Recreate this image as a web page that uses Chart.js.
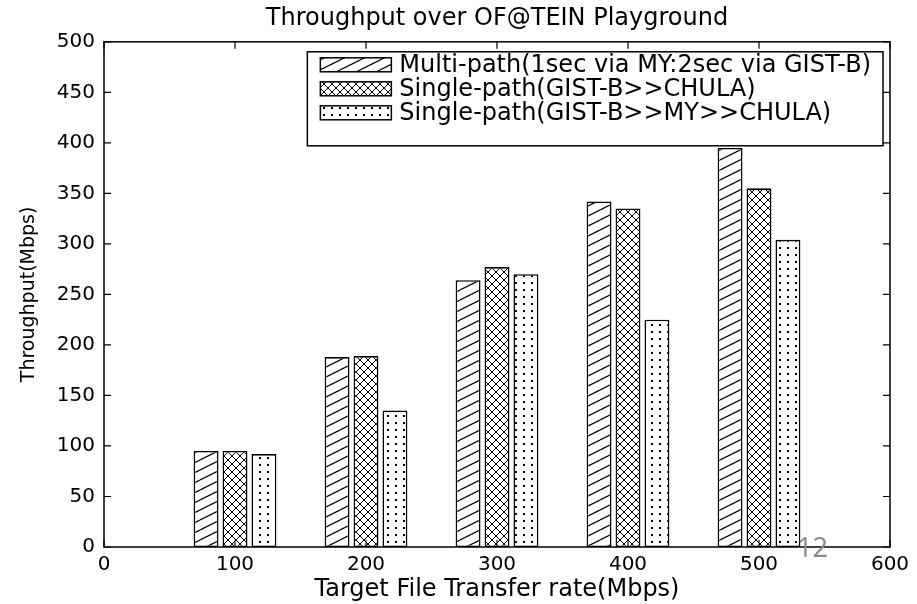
<!DOCTYPE html>
<html>
<head>
<meta charset="utf-8">
<script src="https://cdn.jsdelivr.net/npm/chart.js@4.4.1/dist/chart.umd.min.js"></script>
<style>
  html, body { margin: 0; padding: 0; background: #fff; }
  #wrap { width: 917px; height: 604px; }
</style>
</head>
<body>
<div id="wrap"><canvas id="throughputChart" width="917" height="604"></canvas></div>
<script>
// datos
const targetRates = [100, 200, 300, 400, 500];
const multiPath = [95, 188, 264, 342, 395];
const singleChula = [95, 189, 277, 335, 355];
const singleViaMy = [92, 135, 270, 225, 304];
const seriesLabels = [
    'Multi-path(1sec via MY:2sec via GIST-B)',
    'Single-path(GIST-B>>CHULA)',
    'Single-path(GIST-B>>MY>>CHULA)'
];
const xTickStep = 100;
const yTickStep = 50;

const FONT = '"DejaVu Sans", "Liberation Sans", sans-serif';

// patrones de relleno estilo MATLAB
function makePattern(kind) {
    const tile = document.createElement('canvas');
    let w = 8, h = 8;
    if (kind === 'diag') { w = 20; h = 10; }
    if (kind === 'dots') { w = 8; h = 7; }
    tile.width = w; tile.height = h;
    const c = tile.getContext('2d');
    c.fillStyle = '#fff';
    c.fillRect(0, 0, w, h);
    c.strokeStyle = '#000';
    c.fillStyle = '#000';
    c.lineWidth = 1.2;
    if (kind === 'diag') {
        c.beginPath();
        for (const dy of [-h, 0, h]) {
            c.moveTo(0, h + dy);
            c.lineTo(w, dy);
        }
        c.stroke();
    } else if (kind === 'cross') {
        c.lineWidth = 1;
        c.beginPath();
        c.moveTo(0, 0); c.lineTo(w, h);
        c.moveTo(0, h); c.lineTo(w, 0);
        c.stroke();
    } else {
        c.fillRect(3, 2, 2, 2);
    }
    return c.createPattern(tile, 'repeat');
}

const patterns = [makePattern('diag'), makePattern('cross'), makePattern('dots')];

function toPoints(values) {
    return targetRates.map((x, i) => ({ x: x, y: values[i] }));
}

// marco y marcas hacia dentro en los cuatro lados
const framePlugin = {
    id: 'frameTicks',
    afterDatasetsDraw(chart) {
        const { ctx, chartArea: a, scales } = chart;
        ctx.save();
        ctx.strokeStyle = '#000';
        ctx.lineWidth = 1.5;
        ctx.strokeRect(a.left, a.top, a.right - a.left, a.bottom - a.top);
        ctx.lineWidth = 1.2;
        ctx.beginPath();
        scales.x.ticks.forEach(t => {
            const px = scales.x.getPixelForValue(t.value);
            ctx.moveTo(px, a.bottom); ctx.lineTo(px, a.bottom - 7);
            ctx.moveTo(px, a.top); ctx.lineTo(px, a.top + 7);
        });
        scales.y.ticks.forEach(t => {
            const py = scales.y.getPixelForValue(t.value);
            ctx.moveTo(a.left, py); ctx.lineTo(a.left + 7, py);
            ctx.moveTo(a.right, py); ctx.lineTo(a.right - 7, py);
        });
        ctx.stroke();
        ctx.restore();
    }
};

// leyenda dentro del area, arriba a la derecha
const boxLegendPlugin = {
    id: 'boxLegend',
    afterDraw(chart) {
        const { ctx, chartArea: a } = chart;
        ctx.save();
        ctx.font = '24px ' + FONT;
        const textW = Math.max(...chart.data.datasets.map(d => ctx.measureText(d.label).width));
        const patchW = 71, patchH = 14, rowH = 24;
        const boxW = 13 + patchW + 8 + textW + 12;
        const boxH = 94;
        const right = a.right - 7;
        const left = right - boxW;
        const top = a.top + 10;
        ctx.fillStyle = '#fff';
        ctx.fillRect(left, top, boxW, boxH);
        ctx.strokeStyle = '#000';
        ctx.lineWidth = 1.5;
        ctx.strokeRect(left, top, boxW, boxH);
        chart.data.datasets.forEach((d, i) => {
            const cy = top + 13 + i * rowH;
            ctx.fillStyle = d.backgroundColor;
            ctx.fillRect(left + 13, cy - patchH / 2, patchW, patchH);
            ctx.lineWidth = 1.5;
            ctx.strokeRect(left + 13, cy - patchH / 2, patchW, patchH);
            ctx.fillStyle = '#000';
            ctx.textBaseline = 'middle';
            ctx.fillText(d.label, left + 13 + patchW + 8, cy + 1);
        });
        // numero de diapositiva
        ctx.font = '27px "Noto Sans", sans-serif';
        ctx.fillStyle = '#8c8c8c';
        ctx.textBaseline = 'alphabetic';
        ctx.fillText('12', 797, 557);
        ctx.restore();
    }
};

const ctx = document.getElementById('throughputChart').getContext('2d');
const throughputChart = new Chart(ctx, {
    type: 'bar',
    data: {
        datasets: [multiPath, singleChula, singleViaMy].map((vals, i) => ({
            label: seriesLabels[i],
            data: toPoints(vals),
            backgroundColor: patterns[i],
            borderColor: '#000',
            borderWidth: 1.6,
            borderSkipped: false,
            categoryPercentage: 0.663,
            barPercentage: 0.86
        }))
    },
    options: {
        responsive: false,
        animation: false,
        layout: { padding: { left: 0, right: 27, top: 0, bottom: 0 } },
        plugins: {
            legend: { display: false },
            tooltip: { enabled: false },
            title: {
                display: true,
                text: 'Throughput over OF@TEIN Playground',
                color: '#000',
                fullSize: false,
                font: { family: FONT, size: 24, weight: 'normal' },
                padding: { top: 4, bottom: 9 }
            }
        },
        scales: {
            x: {
                type: 'linear',
                min: 0, max: 600,
                offset: false,
                grid: { display: false, drawTicks: false },
                border: { display: false },
                ticks: { stepSize: xTickStep, color: '#000', padding: 6, maxRotation: 0,
                         font: { family: FONT, size: 20 } },
                title: { display: true, text: 'Target File Transfer rate(Mbps)', color: '#000',
                         font: { family: FONT, size: 24 }, padding: { top: 0, bottom: 0 } },
                afterFit(scale) { scale.height = 57; }
            },
            y: {
                min: 0, max: 500,
                grid: { display: false, drawTicks: false },
                border: { display: false },
                ticks: { stepSize: yTickStep, color: '#000', padding: 9,
                         font: { family: FONT, size: 20 } },
                title: { display: true, text: 'Throughput(Mbps)', color: '#000',
                         font: { family: FONT, size: 19 }, padding: { top: 18, bottom: 0 } },
                afterFit(scale) { scale.width = 104; }
            }
        }
    },
    plugins: [framePlugin, boxLegendPlugin]
});
</script>
</body>
</html>
